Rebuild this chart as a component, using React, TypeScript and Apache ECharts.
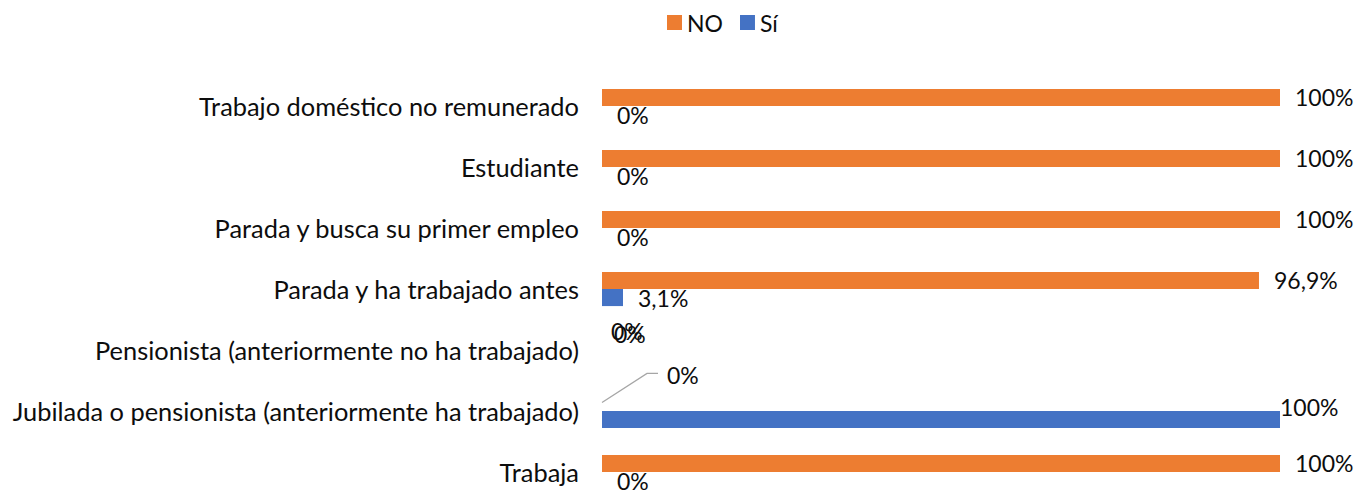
import React, { useEffect, useRef } from "react";
import * as echarts from "echarts";

const categories = [
  "Trabajo doméstico no remunerado",
  "Estudiante",
  "Parada y busca su primer empleo",
  "Parada y ha trabajado antes",
  "Pensionista (anteriormente no ha trabajado)",
  "Jubilada o pensionista (anteriormente ha trabajado)",
  "Trabaja",
];
const noValues = [100, 100, 100, 96.9, 0, 0, 100];
const siValues = [0, 0, 0, 3.1, 0, 100, 0];
const seriesNames = ["NO", "Sí"];
const colors = ["#ED7D31", "#4472C4"];

const FONT = "Lato";
const FS = 23;
const CAT_FS = 25.4;
const BAR_CAT_GAP = 0.44;

function fmt(v: number): string {
  if (Math.round(v) === v) return v + "%";
  return v.toFixed(1).replace(".", ",") + "%";
}

// label nudges (dx, dy) keyed by series index and category index
const labelShift: Record<string, [number, number]> = {
  "0-4": [-6, -10.5],
  "1-4": [-3, -24.5],
  "0-5": [50, -27],
  "1-5": [-15, -13],
};
// the label with a leader line (series index, category index)
const leader = { series: 0, cat: 5 };

export default function App() {
  const ref = useRef<HTMLDivElement>(null);
  useEffect(() => {
    if (!ref.current) return;
    const chart = echarts.init(ref.current, undefined, { renderer: "svg" });
    const mkSeries = (idx: number, data: number[]) => ({
      name: seriesNames[idx],
      type: "bar",
      data,
      barGap: "0%",
      barCategoryGap: BAR_CAT_GAP * 100 + "%",
      itemStyle: { color: colors[idx] },
      label: {
        show: true,
        position: "right",
        distance: 15,
        formatter: (p: any) => fmt(p.value),
        fontFamily: FONT,
        fontSize: FS,
        color: "#0d0d0d",
      },
      labelLayout: (p: any) => {
        const s = labelShift[idx + "-" + p.dataIndex];
        if (!s) return {};
        return { dx: s[0], dy: s[1] };
      },
    });
    chart.setOption({
      animation: false,
      textStyle: { fontFamily: FONT },
      legend: {
        data: seriesNames,
        left: 667,
        top: 10,
        padding: 0,
        icon: "rect",
        itemWidth: 15,
        itemHeight: 15,
        itemGap: 17,
        textStyle: { fontFamily: FONT, fontSize: FS, color: "#0d0d0d", lineHeight: 25 },
      },
      grid: {
        left: 602,
        right: 81,
        top: 75.5,
        height: 427,
        containLabel: false,
        outerBoundsMode: "none",
      },
      xAxis: {
        type: "value",
        min: 0,
        max: 100,
        show: false,
      },
      yAxis: {
        type: "category",
        inverse: true,
        data: categories,
        axisLine: { show: false },
        axisTick: { show: false },
        splitLine: { show: false },
        axisLabel: {
          margin: 23,
          fontFamily: FONT,
          fontSize: CAT_FS,
          color: "#0d0d0d",
        },
      },
      series: [mkSeries(0, noValues), mkSeries(1, siValues)],
    });

    // leader line for the moved label, positioned from the axes
    const vals = leader.series === 0 ? noValues : siValues;
    const x0 = chart.convertToPixel({ xAxisIndex: 0 }, vals[leader.cat]) as number;
    const yc = chart.convertToPixel({ yAxisIndex: 0 }, leader.cat) as number;
    const yn = chart.convertToPixel({ yAxisIndex: 0 }, leader.cat + 1) as number;
    const band = Math.abs(yn - yc);
    const barW = (band * (1 - BAR_CAT_GAP)) / 2;
    const yBar = leader.series === 0 ? yc - barW / 2 : yc + barW / 2;
    chart.setOption({
      graphic: [
        {
          type: "polyline",
          silent: true,
          shape: {
            points: [
              [x0, yBar],
              [x0 + 45, yBar - 29],
              [x0 + 56, yBar - 29],
            ],
          },
          style: { stroke: "#a6a6a6", lineWidth: 1.3, fill: "none" },
        },
      ],
    });
    return () => chart.dispose();
  }, []);
  return (
    <div
      ref={ref}
      style={{ position: "absolute", left: 0, top: 0, width: 1361, height: 495 }}
    />
  );
}
